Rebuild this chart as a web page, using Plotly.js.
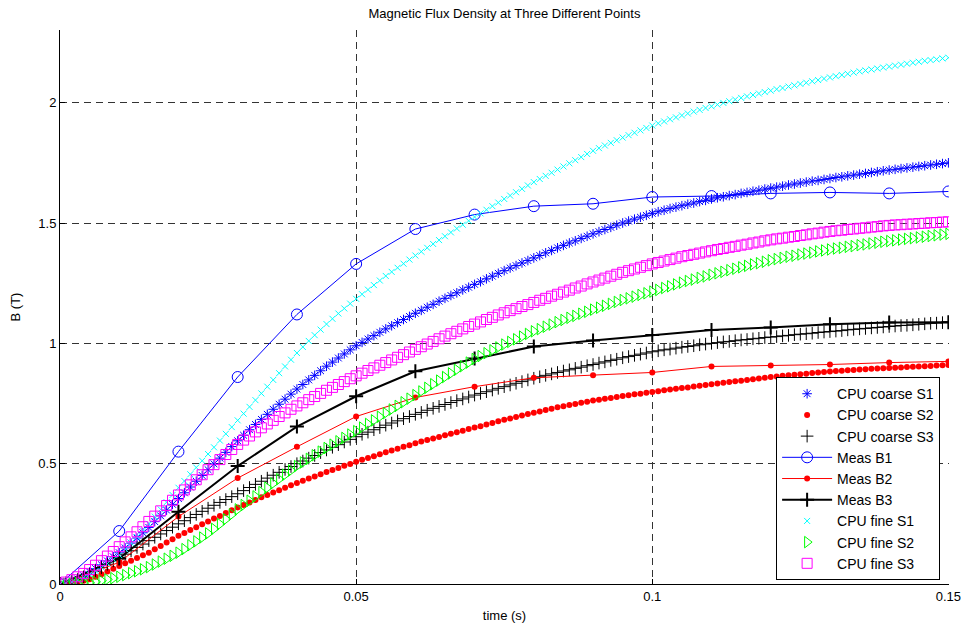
<!DOCTYPE html>
<html>
<head>
<meta charset="utf-8">
<script src="https://cdn.plot.ly/plotly-3.0.1.min.js"></script>
<style>
  html, body { margin: 0; padding: 0; background: #ffffff; }
  #chart { width: 967px; height: 626px; }
</style>
</head>
<body>
<div id="chart"></div>
<script>
// Simulation sample period (s) and number of samples for the CPU runs
const cpuStep = 0.001;
const cpuSamples = 151;

// Measurement instants (s)
const tMeas = [0, 0.01, 0.02, 0.03, 0.04, 0.05, 0.06, 0.07, 0.08, 0.09, 0.10, 0.11, 0.12, 0.13, 0.14, 0.15];

// Measured flux density (T)
const measB1 = [0, 0.22, 0.55, 0.86, 1.12, 1.33, 1.475, 1.535, 1.57, 1.58, 1.608, 1.612, 1.623, 1.627, 1.623, 1.631];
const measB2 = [0, 0.09, 0.28, 0.44, 0.57, 0.696, 0.775, 0.82, 0.857, 0.867, 0.879, 0.904, 0.908, 0.912, 0.92, 0.925];
const measB3 = [0, 0.106, 0.30, 0.49, 0.654, 0.78, 0.884, 0.937, 0.987, 1.012, 1.035, 1.055, 1.066, 1.079, 1.087, 1.088];

// CPU coarse mesh results (T)
const coarseS1 = [
  0, 0.004, 0.011, 0.021, 0.034, 0.05, 0.064, 0.08, 0.096, 0.113,
  0.13, 0.15, 0.17, 0.191, 0.213, 0.235, 0.259, 0.283, 0.307, 0.331,
  0.355, 0.379, 0.403, 0.427, 0.451, 0.475, 0.499, 0.523, 0.547, 0.571,
  0.595, 0.618, 0.641, 0.663, 0.684, 0.705, 0.726, 0.747, 0.768, 0.789,
  0.81, 0.829, 0.848, 0.867, 0.886, 0.905, 0.922, 0.939, 0.956, 0.973,
  0.99, 1.004, 1.018, 1.032, 1.046, 1.06, 1.073, 1.086, 1.099, 1.112,
  1.125, 1.137, 1.15, 1.162, 1.175, 1.187, 1.199, 1.21, 1.222, 1.233,
  1.245, 1.256, 1.268, 1.279, 1.291, 1.302, 1.313, 1.323, 1.334, 1.344,
  1.355, 1.365, 1.376, 1.386, 1.397, 1.407, 1.417, 1.426, 1.436, 1.445,
  1.455, 1.464, 1.473, 1.482, 1.491, 1.50, 1.508, 1.516, 1.524, 1.532,
  1.54, 1.547, 1.553, 1.56, 1.566, 1.572, 1.578, 1.583, 1.589, 1.594,
  1.60, 1.605, 1.609, 1.614, 1.618, 1.623, 1.627, 1.632, 1.636, 1.641,
  1.645, 1.649, 1.653, 1.658, 1.662, 1.666, 1.67, 1.674, 1.677, 1.681,
  1.685, 1.689, 1.692, 1.696, 1.699, 1.703, 1.706, 1.71, 1.713, 1.717,
  1.72, 1.723, 1.726, 1.729, 1.732, 1.735, 1.738, 1.741, 1.744, 1.747,
  1.75
];
const coarseS2 = [
  0, 0.002, 0.005, 0.009, 0.014, 0.02, 0.03, 0.041, 0.052, 0.063,
  0.075, 0.086, 0.097, 0.108, 0.119, 0.13, 0.144, 0.158, 0.172, 0.186,
  0.20, 0.212, 0.224, 0.236, 0.248, 0.26, 0.272, 0.283, 0.295, 0.306,
  0.318, 0.328, 0.339, 0.349, 0.36, 0.37, 0.38, 0.39, 0.40, 0.41,
  0.42, 0.429, 0.438, 0.447, 0.456, 0.465, 0.474, 0.482, 0.491, 0.499,
  0.508, 0.516, 0.524, 0.531, 0.539, 0.547, 0.555, 0.562, 0.57, 0.577,
  0.585, 0.592, 0.598, 0.605, 0.611, 0.618, 0.624, 0.631, 0.637, 0.644,
  0.65, 0.656, 0.663, 0.669, 0.676, 0.682, 0.688, 0.694, 0.70, 0.706,
  0.712, 0.717, 0.723, 0.728, 0.734, 0.739, 0.744, 0.748, 0.753, 0.757,
  0.762, 0.766, 0.77, 0.773, 0.777, 0.781, 0.784, 0.788, 0.791, 0.795,
  0.798, 0.801, 0.805, 0.808, 0.811, 0.814, 0.817, 0.821, 0.824, 0.827,
  0.83, 0.833, 0.836, 0.839, 0.842, 0.845, 0.848, 0.851, 0.854, 0.857,
  0.86, 0.862, 0.865, 0.867, 0.87, 0.872, 0.874, 0.877, 0.879, 0.881,
  0.883, 0.885, 0.886, 0.888, 0.889, 0.891, 0.892, 0.894, 0.895, 0.897,
  0.898, 0.899, 0.90, 0.902, 0.903, 0.904, 0.905, 0.906, 0.908, 0.909,
  0.91
];
const coarseS3 = [
  0, 0.005, 0.012, 0.02, 0.03, 0.04, 0.054, 0.068, 0.082, 0.096,
  0.11, 0.124, 0.138, 0.152, 0.166, 0.18, 0.194, 0.208, 0.222, 0.236,
  0.25, 0.263, 0.276, 0.289, 0.302, 0.315, 0.327, 0.339, 0.351, 0.363,
  0.375, 0.388, 0.401, 0.414, 0.427, 0.44, 0.452, 0.464, 0.476, 0.488,
  0.50, 0.511, 0.523, 0.534, 0.546, 0.557, 0.568, 0.579, 0.59, 0.601,
  0.612, 0.622, 0.631, 0.641, 0.65, 0.66, 0.669, 0.678, 0.687, 0.696,
  0.705, 0.713, 0.722, 0.73, 0.738, 0.746, 0.754, 0.762, 0.769, 0.777,
  0.785, 0.792, 0.799, 0.806, 0.813, 0.82, 0.827, 0.834, 0.841, 0.848,
  0.855, 0.861, 0.867, 0.873, 0.879, 0.885, 0.89, 0.896, 0.901, 0.907,
  0.912, 0.918, 0.923, 0.929, 0.934, 0.94, 0.945, 0.95, 0.955, 0.96,
  0.965, 0.969, 0.973, 0.976, 0.98, 0.984, 0.987, 0.99, 0.994, 0.997,
  1.0, 1.003, 1.006, 1.008, 1.011, 1.014, 1.016, 1.019, 1.021, 1.024,
  1.026, 1.028, 1.031, 1.033, 1.036, 1.038, 1.04, 1.042, 1.045, 1.047,
  1.049, 1.051, 1.053, 1.056, 1.058, 1.06, 1.062, 1.064, 1.066, 1.068,
  1.07, 1.072, 1.074, 1.075, 1.077, 1.079, 1.081, 1.083, 1.084, 1.086,
  1.088
];

// CPU fine mesh results (T)
const fineS1 = [
  0, 0.003, 0.008, 0.016, 0.027, 0.04, 0.054, 0.069, 0.085, 0.102,
  0.12, 0.145, 0.17, 0.195, 0.222, 0.25, 0.28, 0.31, 0.34, 0.37,
  0.40, 0.428, 0.456, 0.484, 0.512, 0.54, 0.568, 0.596, 0.624, 0.652,
  0.68, 0.708, 0.736, 0.764, 0.792, 0.82, 0.848, 0.876, 0.904, 0.932,
  0.96, 0.985, 1.01, 1.034, 1.057, 1.08, 1.102, 1.124, 1.145, 1.165,
  1.185, 1.204, 1.223, 1.242, 1.261, 1.28, 1.297, 1.314, 1.331, 1.348,
  1.365, 1.381, 1.397, 1.413, 1.429, 1.445, 1.461, 1.477, 1.493, 1.509,
  1.525, 1.54, 1.555, 1.57, 1.585, 1.60, 1.614, 1.628, 1.642, 1.656,
  1.67, 1.683, 1.696, 1.709, 1.722, 1.735, 1.748, 1.761, 1.774, 1.787,
  1.80, 1.811, 1.822, 1.833, 1.844, 1.855, 1.865, 1.875, 1.885, 1.895,
  1.905, 1.914, 1.922, 1.931, 1.939, 1.947, 1.955, 1.963, 1.97, 1.978,
  1.985, 1.992, 1.999, 2.006, 2.013, 2.02, 2.026, 2.032, 2.038, 2.044,
  2.05, 2.056, 2.061, 2.067, 2.072, 2.078, 2.083, 2.089, 2.094, 2.10,
  2.105, 2.11, 2.115, 2.12, 2.125, 2.13, 2.134, 2.138, 2.142, 2.146,
  2.15, 2.154, 2.158, 2.162, 2.166, 2.17, 2.174, 2.177, 2.18, 2.184,
  2.187
];
const fineS2 = [
  0, 0.001, 0.002, 0.003, 0.004, 0.005, 0.009, 0.014, 0.019, 0.024,
  0.03, 0.037, 0.045, 0.053, 0.061, 0.07, 0.081, 0.093, 0.105, 0.117,
  0.13, 0.145, 0.161, 0.177, 0.193, 0.21, 0.229, 0.249, 0.269, 0.289,
  0.31, 0.328, 0.346, 0.364, 0.382, 0.40, 0.418, 0.436, 0.454, 0.472,
  0.49, 0.505, 0.52, 0.535, 0.55, 0.565, 0.579, 0.593, 0.607, 0.621,
  0.635, 0.65, 0.665, 0.68, 0.695, 0.71, 0.725, 0.74, 0.755, 0.77,
  0.785, 0.80, 0.815, 0.83, 0.845, 0.86, 0.875, 0.89, 0.905, 0.92,
  0.935, 0.947, 0.959, 0.971, 0.983, 0.995, 1.006, 1.017, 1.028, 1.039,
  1.05, 1.059, 1.069, 1.078, 1.088, 1.097, 1.106, 1.114, 1.123, 1.131,
  1.14, 1.148, 1.156, 1.164, 1.172, 1.18, 1.187, 1.194, 1.201, 1.208,
  1.215, 1.222, 1.23, 1.237, 1.245, 1.252, 1.259, 1.265, 1.272, 1.278,
  1.285, 1.291, 1.297, 1.304, 1.31, 1.316, 1.322, 1.328, 1.333, 1.339,
  1.345, 1.35, 1.355, 1.36, 1.364, 1.369, 1.373, 1.377, 1.382, 1.386,
  1.39, 1.394, 1.397, 1.401, 1.404, 1.408, 1.411, 1.415, 1.418, 1.422,
  1.425, 1.428, 1.431, 1.434, 1.437, 1.44, 1.443, 1.446, 1.449, 1.452,
  1.455
];
const fineS3 = [
  0, 0.008, 0.018, 0.03, 0.044, 0.06, 0.078, 0.097, 0.116, 0.135,
  0.155, 0.175, 0.196, 0.217, 0.238, 0.26, 0.282, 0.304, 0.326, 0.348,
  0.37, 0.391, 0.412, 0.433, 0.454, 0.475, 0.496, 0.517, 0.538, 0.559,
  0.58, 0.598, 0.615, 0.632, 0.649, 0.665, 0.68, 0.696, 0.711, 0.726,
  0.74, 0.753, 0.766, 0.779, 0.792, 0.805, 0.817, 0.829, 0.841, 0.853,
  0.865, 0.876, 0.887, 0.898, 0.909, 0.92, 0.931, 0.942, 0.953, 0.964,
  0.975, 0.986, 0.997, 1.008, 1.019, 1.03, 1.04, 1.05, 1.06, 1.07,
  1.08, 1.089, 1.099, 1.108, 1.118, 1.127, 1.136, 1.144, 1.153, 1.161,
  1.17, 1.179, 1.187, 1.196, 1.204, 1.213, 1.221, 1.23, 1.238, 1.247,
  1.255, 1.263, 1.271, 1.279, 1.287, 1.295, 1.302, 1.309, 1.316, 1.323,
  1.33, 1.336, 1.342, 1.348, 1.354, 1.36, 1.365, 1.37, 1.375, 1.38,
  1.385, 1.39, 1.394, 1.399, 1.403, 1.408, 1.412, 1.417, 1.421, 1.426,
  1.43, 1.434, 1.437, 1.441, 1.444, 1.448, 1.451, 1.455, 1.458, 1.462,
  1.465, 1.468, 1.47, 1.473, 1.475, 1.478, 1.48, 1.483, 1.485, 1.488,
  1.49, 1.492, 1.493, 1.495, 1.496, 1.498, 1.499, 1.501, 1.502, 1.504,
  1.505
];

// Axis ticks
const xTicks = [0, 0.05, 0.1, 0.15];
const xTickText = ['0', '0.05', '0.1', '0.15'];
const yTicks = [0, 0.5, 1, 1.5, 2];
const yTickText = ['0', '0.5', '1', '1.5', '2'];

// Simulation time base
const tCpu = [];
for (let i = 0; i < cpuSamples; i++) tCpu.push(+(i * cpuStep).toFixed(3));

const FONT = 'Liberation Sans, Arial, Helvetica, sans-serif';

function markersOnly(name, y, symbol, color, size, lw) {
  return {
    type: 'scatter', mode: 'markers', name: name, x: tCpu, y: y,
    marker: { symbol: symbol, color: color, size: size, line: { color: color, width: lw } }
  };
}
function lineMarkers(name, y, symbol, color, size, lineWidth, markerLw) {
  return {
    type: 'scatter', mode: 'lines+markers', name: name, x: tMeas, y: y,
    line: { color: color, width: lineWidth },
    marker: { symbol: symbol, color: color, size: size, line: { color: color, width: markerLw } }
  };
}

const traces = [
  markersOnly('CPU coarse S1', coarseS1, 'asterisk-open', '#0000ff', 8, 1),
  markersOnly('CPU coarse S2', coarseS2, 'circle', '#ff0000', 6, 0),
  markersOnly('CPU coarse S3', coarseS3, 'cross-thin-open', '#000000', 9, 1),
  lineMarkers('Meas B1', measB1, 'circle-open', '#0000ff', 11, 1, 1),
  lineMarkers('Meas B2', measB2, 'circle', '#ff0000', 6, 1, 0),
  lineMarkers('Meas B3', measB3, 'cross-thin-open', '#000000', 10, 2, 2),
  markersOnly('CPU fine S1', fineS1, 'x-thin-open', '#00ffff', 6, 1),
  markersOnly('CPU fine S2', fineS2, 'triangle-right-open', '#00ff00', 10, 1),
  markersOnly('CPU fine S3', fineS3, 'square-open', '#ff00ff', 10, 1)
];

const axisCommon = {
  showgrid: true,
  gridcolor: '#333333',
  gridwidth: 1,
  griddash: '7px,5px',
  zeroline: false,
  showline: true,
  linecolor: '#000000',
  linewidth: 1,
  ticks: 'inside',
  ticklen: 5,
  tickcolor: '#000000',
  tickfont: { family: FONT, size: 13, color: '#000000' }
};

const layout = {
  width: 967,
  height: 626,
  paper_bgcolor: '#ffffff',
  plot_bgcolor: '#ffffff',
  margin: { l: 60, r: 18, t: 30, b: 42 },
  showlegend: true,
  title: {
    text: 'Magnetic Flux Density at Three Different Points',
    font: { family: FONT, size: 13, color: '#000000' },
    x: 0.5, xref: 'paper', xanchor: 'center',
    y: 1, yref: 'container', yanchor: 'top', pad: { t: 9 }
  },
  xaxis: Object.assign({}, axisCommon, {
    range: [0, 0.1501],
    tickvals: xTicks,
    ticktext: xTickText,
    title: { text: 'time (s)', font: { family: FONT, size: 13, color: '#000000' }, standoff: 8 }
  }),
  yaxis: Object.assign({}, axisCommon, {
    range: [0, 2.302],
    tickvals: yTicks,
    ticktext: yTickText,
    title: { text: 'B (T)', font: { family: FONT, size: 13, color: '#000000' }, standoff: 14 }
  }),
  legend: {
    x: 0.99, y: 0.007, xanchor: 'right', yanchor: 'bottom',
    xref: 'paper', yref: 'paper',
    bgcolor: '#ffffff', bordercolor: '#000000', borderwidth: 1,
    font: { family: FONT, size: 14, color: '#000000' },
    itemwidth: 50,
    tracegroupgap: 0
  }
};

Plotly.newPlot('chart', traces, layout, { displayModeBar: false, staticPlot: true });
</script>
</body>
</html>
